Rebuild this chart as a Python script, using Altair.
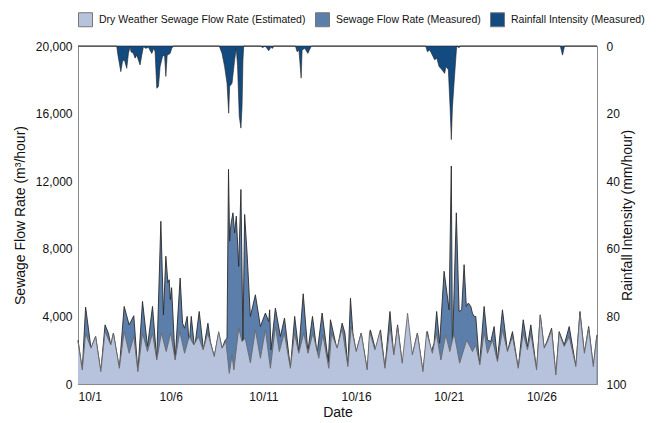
import altair as alt
import pandas as pd

# ---- data (day offset from 10/1 00:00) ----
measured_day = [0.0, 0.23, 0.41, 0.70, 0.95, 1.23, 1.46, 1.64, 1.77, 1.91, 2.23, 2.49, 2.76, 3.01, 3.23,
                3.48, 3.75, 4.02, 4.25, 4.47, 4.61, 4.74, 4.85, 4.92, 4.98, 5.05, 5.24, 5.51, 5.64, 5.75,
                5.89, 6.0, 6.11, 6.29, 6.54, 6.77, 7.01, 7.14, 7.35, 7.59, 7.77, 7.95, 8.04, 8.12, 8.18,
                8.25, 8.36, 8.45, 8.54, 8.67, 8.79, 8.90, 8.99, 9.12, 9.3, 9.57, 9.84, 10.11, 10.29, 10.34,
                10.41, 10.65, 10.92, 11.14, 11.46, 11.69, 11.91, 12.15, 12.4, 12.65, 12.9, 13.17, 13.5, 13.62,
                13.98, 14.25, 14.4, 14.56, 14.7, 14.83, 15.01, 15.28, 15.6, 15.77, 15.87, 16.05, 16.32, 16.56,
                16.83, 17.04, 17.24, 17.49, 17.78, 18.04, 18.31, 18.61, 18.85, 19.06, 19.21, 19.35, 19.51, 19.75,
                20.02, 20.14, 20.2, 20.41, 20.56, 20.7, 20.83, 20.95, 21.06, 21.19, 21.28, 21.37, 21.46, 21.66,
                21.91, 22.09, 22.27, 22.45, 22.63, 22.9, 23.17, 23.44, 23.75, 24.02, 24.25, 24.43, 24.74, 24.94,
                25.15, 25.33, 25.55, 25.78, 25.96, 26.23, 26.5, 26.86, 27.08, 27.32, 27.55, 27.8, 28.0]
measured_flow = [2600, 830, 4550, 2130, 2810, 730, 3500, 3010, 2310, 3010, 930, 4590, 3500, 4040, 730,
                 4890, 2220, 4590, 1420, 9630, 4090, 7560, 6000, 6170, 4990, 5700, 1420, 6270, 3600, 3300,
                 4000, 2310, 4000, 2120, 4290, 2020, 3600, 2510, 1620, 3010, 2120, 2610, 2700, 12700, 8450,
                 9430, 10130, 8940, 9930, 6960, 11510, 2510, 10030, 7750, 4000, 5280, 3400, 4200, 3700, 4390,
                 2020, 4490, 2810, 3900, 930, 4000, 1920, 5340, 1920, 4000, 1820, 4200, 1330, 3800,
                 2020, 3600, 3010, 1030, 5080, 3010, 1920, 3010, 830, 3200, 2810, 2020, 3200, 930,
                 4290, 1620, 3500, 1230, 2700, 1720, 3010, 730, 3100, 1920, 2410, 4290, 2410, 6670,
                 4390, 12900, 1920, 10130, 4290, 4390, 7060, 4590, 4790, 4590, 4190, 4000, 4000, 1130,
                 4590, 2610, 2510, 3400, 1420, 4390, 1920, 3100, 930, 3800, 2220, 3500, 830, 4090,
                 2120, 2610, 3300, 530, 3100, 2310, 3400, 1030, 4290, 1820, 3400, 1030, 2910]

dry_day = [0.0, 0.23, 0.41, 0.70, 0.95, 1.23, 1.46, 1.77, 1.91, 2.23, 2.49, 2.76, 3.01, 3.23, 3.48,
           3.75, 4.02, 4.25, 4.5, 4.76, 5.0, 5.24, 5.49, 5.75, 6.0, 6.25, 6.5, 6.75, 7.0, 7.35,
           7.59, 7.77, 7.98, 8.16, 8.31, 8.41, 8.67, 8.85, 9.02, 9.3, 9.57, 9.84, 10.11, 10.38, 10.65,
           10.86, 11.13, 11.46, 11.68, 11.91, 12.18, 12.41, 12.67, 12.99, 13.21, 13.53, 13.68, 13.98, 14.25,
           14.56, 14.74, 15.01, 15.28, 15.6, 15.73, 16.02, 16.29, 16.56, 16.83, 17.04, 17.24, 17.49, 17.78,
           18.04, 18.31, 18.61, 18.81, 19.12, 19.33, 19.58, 19.84, 20.06, 20.29, 20.59, 20.97, 21.28, 21.46,
           21.68, 21.91, 22.09, 22.36, 22.63, 22.9, 23.17, 23.44, 23.75, 24.02, 24.25, 24.43, 24.74, 24.94,
           25.15, 25.33, 25.55, 25.78, 25.96, 26.23, 26.5, 26.86, 27.08, 27.32, 27.55, 27.8, 27.98]
dry_flow = [2510, 830, 3010, 2120, 2810, 730, 3100, 2310, 3010, 930, 3100, 1820, 2810, 730, 3010,
            1920, 3010, 1420, 3010, 1920, 3010, 1420, 3100, 1820, 2810, 2310, 2810, 2020, 3010, 1620,
            3100, 2120, 2510, 630, 1720, 830, 3300, 2510, 2710, 1250, 3200, 1520, 3200, 930, 3400,
            1920, 3010, 930, 3010, 1820, 3010, 1820, 3010, 1520, 2910, 930, 3010, 2120, 3300,
            1030, 3400, 1920, 3010, 830, 3100, 2020, 3100, 930, 3400, 1720, 3400, 1230, 4190,
            1720, 3010, 730, 3100, 1820, 3010, 1420, 2910, 1920, 3010, 1230, 2600, 1920, 2300,
            1130, 3100, 1820, 2610, 1330, 3200, 1920, 2810, 930, 3010, 2020, 3010, 830, 4090,
            2120, 2510, 3200, 530, 3010, 2220, 2810, 1030, 4190, 1820, 3300, 1030, 2810]

rain_day = [0.0, 2.09, 2.14, 2.31, 2.40, 2.5, 2.63, 2.72, 2.81, 2.86, 2.99, 3.08, 3.17, 3.35, 3.44,
            3.53, 3.66, 3.8, 3.98, 4.09, 4.16, 4.25, 4.34, 4.43, 4.56, 4.67, 4.74, 4.81, 4.97, 5.06,
            5.15, 7.62, 7.77, 7.91, 8.04, 8.13, 8.18, 8.31, 8.45, 8.54, 8.61, 8.70, 8.79, 8.85, 8.90,
            8.94, 9.87, 9.95, 10.1, 10.29, 10.4, 10.5, 10.56, 11.73, 11.82, 11.92, 12.04, 12.09, 12.24,
            12.4, 12.5, 12.59, 18.76, 18.85, 18.98, 19.12, 19.24, 19.36, 19.48, 19.65, 19.78, 19.85, 19.98,
            20.08, 20.14, 20.2, 20.3, 20.43, 20.55, 20.65, 26.02, 26.14, 26.25, 28.0]
rain_mm = [0, 0, 2.2, 7.6, 4.6, 4.1, 6.6, 2.2, 0.2, 1.7, 2.2, 3.6, 2.7, 5.6, 2.7,
           0.2, 0.7, 0.4, 2.2, 0.7, 1.7, 12.5, 12.0, 6.1, 3.1, 2.7, 9.0, 2.7, 2.2, 0.7,
           0, 0, 2.2, 6.1, 11.0, 19.9, 12.0, 11.0, 4.1, 0.7, 6.1, 20.8, 24.3, 17.9, 4.1,
           0, 0, 0.5, 0, 1.4, 0.4, 0.7, 0, 0, 1.7, 1.2, 9.5, 1.2, 0.7,
           2.2, 1.0, 0, 0, 1.7, 1.2, 2.7, 4.1, 3.6, 6.1, 7.1, 8.1, 6.1, 7.0,
           18.9, 27.7, 18.3, 10.0, 0, 0.5, 0, 0, 2.7, 0, 0]

series_names = ["Dry Weather Sewage Flow Rate (Estimated)", "Sewage Flow Rate (Measured)",
                "Rainfall Intensity (Measured)"]
series_colors = ["#b7c3dc", "#5b7eab", "#134a80"]
x_tick_days = [0, 5, 10, 15, 20, 25]
flow_ticks = [0, 4000, 8000, 12000, 16000, 20000]
rain_ticks = [0, 20, 40, 60, 80, 100]

measured_df = pd.DataFrame({"day": measured_day, "flow": measured_flow, "series": series_names[1]})
dry_df = pd.DataFrame({"day": dry_day, "flow": dry_flow, "series": series_names[0]})
rain_df = pd.DataFrame({"day": rain_day, "rain": rain_mm, "series": series_names[2]})

FONT = "Liberation Sans"

color_scale = alt.Scale(domain=series_names, range=series_colors)
legend = alt.Legend(title=None, orient="none", legendX=0, legendY=-34, direction="horizontal",
                    symbolType="square", symbolSize=196, symbolStrokeColor="#777",
                    symbolStrokeWidth=1, labelFontSize=10.5, labelFont=FONT, labelColor="#111",
                    labelLimit=0, columnPadding=7, labelOffset=6, padding=0)
color_enc = alt.Color("series:N", scale=color_scale, legend=legend, sort=series_names)

x_enc = alt.X("day:Q", scale=alt.Scale(domain=[0, 28], nice=False, zero=False),
              axis=alt.Axis(title="Date", values=x_tick_days,
                            labelExpr="'10/' + (datum.value + 1)", labelPadding=7,
                            titlePadding=3))
y_flow = alt.Y("flow:Q", scale=alt.Scale(domain=[0, 20000], nice=False),
               axis=alt.Axis(title="Sewage Flow Rate (m³/hour)", values=flow_ticks, format=",d",
                             orient="left", labelPadding=6, titlePadding=8))
y_rain = alt.Y("rain:Q", scale=alt.Scale(domain=[0, 100], reverse=True, nice=False),
               axis=alt.Axis(title="Rainfall Intensity (mm/hour)", values=rain_ticks,
                             orient="right", labelPadding=9, titlePadding=8, titleAngle=270))

m_area = alt.Chart(measured_df).mark_area(opacity=1).encode(x=x_enc, y=y_flow, color=color_enc)
m_line = alt.Chart(measured_df).mark_line(color="#2a2a2a", strokeWidth=0.9).encode(x=x_enc, y=y_flow)
d_area = alt.Chart(dry_df).mark_area(opacity=1).encode(x=x_enc, y=y_flow, color=color_enc)
d_line = alt.Chart(dry_df).mark_line(color="#6a6a6a", strokeWidth=0.9).encode(x=x_enc, y=y_flow)

flow_layer = alt.layer(m_area, m_line, d_area, d_line)

rain_area = alt.Chart(rain_df).mark_area(opacity=1, stroke="#222", strokeWidth=0.6).encode(
    x=x_enc, y=y_rain, color=color_enc)

chart = alt.layer(flow_layer, rain_area).resolve_scale(y="independent").properties(
    width=519, height=338,
    autosize=alt.AutoSizeParams(type="none"),
    padding={"left": 70, "top": 38, "right": 56, "bottom": 38},
).configure_view(stroke="#999", strokeWidth=1).configure_axis(
    domainColor="#888", ticks=False, grid=False,
    labelFont=FONT, titleFont=FONT, labelFontSize=12, titleFontSize=14,
    titleFontWeight="normal", labelColor="#111", titleColor="#111",
)

chart.save("out.html", embed_options={"renderer": "svg", "actions": False})
